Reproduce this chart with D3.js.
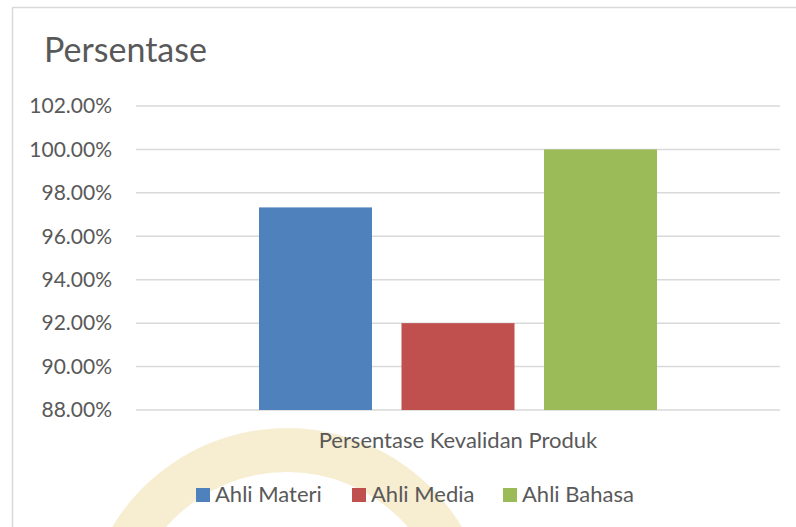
<!DOCTYPE html>
<html>
<head>
<meta charset="utf-8">
<script src="https://cdn.jsdelivr.net/npm/d3@7"></script>
<style>
  body { margin: 0; background: #fff; }
  svg text { font-family: Lato, "Open Sans", sans-serif; fill: #595959; }
</style>
</head>
<body>
<svg id="grafica" width="796" height="527"></svg>
<script>
// datos
const kategori = ["Persentase Kevalidan Produk"];
const seri = ["Ahli Materi", "Ahli Media", "Ahli Bahasa"];
const nilai = [0.9733, 0.92, 1.00];
const warna = ["#4f81bd", "#c0504d", "#9bbb59"];
const ticksY = [0.88, 0.90, 0.92, 0.94, 0.96, 0.98, 1.00, 1.02];

const svg = d3.select("#grafica");

// watermark samar di bawah
svg.append("path")
  .attr("transform", "translate(287,632)")
  .attr("d", d3.arc().innerRadius(160).outerRadius(204).startAngle(-Math.PI / 2).endAngle(Math.PI / 2))
  .attr("fill", "#f5e8c6")
  .attr("opacity", 0.8);

// bingkai
svg.append("path")
  .attr("d", "M12.5,527 L12.5,7.5 L796,7.5")
  .attr("fill", "none")
  .attr("stroke", "#d9d9d9")
  .attr("stroke-width", 1.5);

const x0 = d3.scaleBand()
  .domain(kategori)
  .range([136, 780])
  .paddingOuter(0.309)
  .paddingInner(0);

const x1 = d3.scaleBand()
  .domain(seri)
  .range([0, x0.bandwidth()])
  .paddingInner(0.207)
  .paddingOuter(0);

const y = d3.scaleLinear()
  .domain([0.88, 1.02])
  .range([410, 106]);

// grid
svg.append("g")
  .selectAll("line")
  .data(ticksY)
  .join("line")
  .attr("x1", 136)
  .attr("x2", 780)
  .attr("y1", d => y(d))
  .attr("y2", d => y(d))
  .attr("stroke", "#d9d9d9")
  .attr("stroke-width", 1.5);

// sumbu y
const sumbuY = svg.append("g")
  .attr("transform", "translate(136,0)")
  .call(d3.axisLeft(y).tickValues(ticksY).tickFormat(d3.format(".2%")).tickSize(0).tickPadding(24));
sumbuY.select(".domain").remove();
sumbuY.selectAll("text")
  .attr("font-size", 21)
  .attr("fill", "#595959")
  .attr("font-family", "Lato, sans-serif");

// batang
svg.append("g")
  .selectAll("rect")
  .data(seri)
  .join("rect")
  .attr("x", d => x0(kategori[0]) + x1(d))
  .attr("width", x1.bandwidth())
  .attr("y", (d, i) => y(nilai[i]))
  .attr("height", (d, i) => y(0.88) - y(nilai[i]))
  .attr("fill", (d, i) => warna[i]);

// judul
svg.append("text")
  .attr("x", 44)
  .attr("y", 62)
  .attr("font-size", 34)
  .text("Persentase");

// label kategori
svg.append("text")
  .attr("x", x0(kategori[0]) + x0.bandwidth() / 2)
  .attr("y", 448)
  .attr("text-anchor", "middle")
  .attr("font-size", 22)
  .text(kategori[0]);

// legenda
const posLegenda = [196, 352, 503];
const legenda = svg.append("g")
  .selectAll("g")
  .data(seri)
  .join("g")
  .attr("transform", (d, i) => `translate(${posLegenda[i]},488)`);
legenda.append("rect")
  .attr("width", 14)
  .attr("height", 14)
  .attr("fill", (d, i) => warna[i]);
legenda.append("text")
  .attr("x", 19)
  .attr("y", 13.5)
  .attr("font-size", 22)
  .text(d => d);
</script>
</body>
</html>
